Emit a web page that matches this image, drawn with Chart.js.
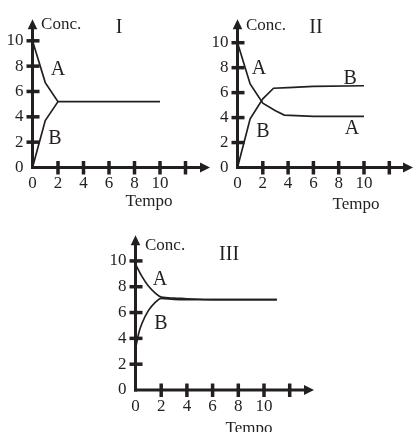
<!DOCTYPE html>
<html><head><meta charset="utf-8">
<script src="https://cdn.jsdelivr.net/npm/chart.js"></script>
<style>
html,body{margin:0;padding:0;background:#fff;}
#wrap{position:relative;width:414px;height:432px;overflow:hidden;background:#fff;}
canvas{position:absolute;}
</style></head><body><div id="wrap">
<canvas id="c1" width="214" height="216" style="left:0px;top:0px"></canvas>
<canvas id="c2" width="207" height="216" style="left:207px;top:0px"></canvas>
<canvas id="c3" width="220" height="216" style="left:100px;top:216px"></canvas>
</div>
<script>
// ---- tick labels / marks ----
const yTickLabels = [0, 2, 4, 6, 8, 10];
const xTickLabels = [0, 2, 4, 6, 8, 10];
const yTickMarks = [2, 4, 6, 8, 10];
const xTickMarks = [2, 4, 6, 8, 10, 12];

// ---- Chart I ----
const timeA1 = [0, 1, 2, 10];
const concA1 = [10, 6.7, 5.2, 5.2];
const timeB1 = [0, 1, 2];
const concB1 = [0, 3.7, 5.2];

// ---- Chart II ----
const timeA2 = [0, 1, 2, 3, 3.7, 6, 10];
const concA2 = [10, 6.7, 5.15, 4.55, 4.2, 4.1, 4.1];
const timeB2 = [0, 1, 2, 2.85, 4, 6, 10];
const concB2 = [0, 3.9, 5.5, 6.35, 6.4, 6.5, 6.55];

// ---- Chart III ----
const timeA3 = [0, 0.5, 1, 1.5, 2, 3, 4, 6, 11];
const concA3 = [9.75, 8.8, 8.05, 7.55, 7.2, 7.12, 7.07, 7.0, 7.0];
const timeB3 = [0, 0.25, 0.5, 1, 1.5, 2, 3, 4, 6, 11];
const concB3 = [3.2, 4.4, 5.15, 6.15, 6.75, 7.1, 7.02, 7.0, 7.0, 7.0];

const INK = '#231f20';
const SERIF = "'Liberation Serif', 'DejaVu Serif', serif";

function pts(xs, ys) { return xs.map((x, i) => ({ x: x, y: ys[i] })); }

const axesPlugin = {
  id: 'axesPlugin',
  beforeDatasetsDraw(chart, args, opts) {
    const ctx = chart.ctx, xs = chart.scales.x, ys = chart.scales.y, ca = chart.chartArea;
    const ox = xs.getPixelForValue(0), oy = ys.getPixelForValue(0);
    ctx.save();
    ctx.strokeStyle = INK; ctx.fillStyle = INK; ctx.lineWidth = 3;
    // y axis
    ctx.beginPath(); ctx.moveTo(ox, oy + 1.5); ctx.lineTo(ox, ca.top + 8); ctx.stroke();
    ctx.beginPath(); ctx.moveTo(ox, ca.top); ctx.lineTo(ox - 4.8, ca.top + 10); ctx.lineTo(ox + 4.8, ca.top + 10); ctx.closePath(); ctx.fill();
    // x axis
    ctx.beginPath(); ctx.moveTo(ox - 1.5, oy); ctx.lineTo(ca.right - 8, oy); ctx.stroke();
    ctx.beginPath(); ctx.moveTo(ca.right, oy); ctx.lineTo(ca.right - 10, oy - 5); ctx.lineTo(ca.right - 10, oy + 5); ctx.closePath(); ctx.fill();
    // tick marks
    ctx.lineWidth = 3.5;
    yTickMarks.forEach(v => { const p = ys.getPixelForValue(v); ctx.beginPath(); ctx.moveTo(ox - 6, p); ctx.lineTo(ox + 7, p); ctx.stroke(); });
    xTickMarks.forEach(v => { const p = xs.getPixelForValue(v); ctx.beginPath(); ctx.moveTo(p, oy - 6.5); ctx.lineTo(p, oy + 7); ctx.stroke(); });
    ctx.restore();
  },
  afterDraw(chart, args, opts) {
    const ctx = chart.ctx, xs = chart.scales.x, ys = chart.scales.y;
    ctx.save();
    ctx.fillStyle = INK; ctx.textBaseline = 'alphabetic';
    (opts.notes || []).forEach(n => {
      ctx.font = n.size + 'px ' + SERIF;
      ctx.textAlign = n.align || 'center';
      ctx.fillText(n.text, xs.getPixelForValue(n.x), ys.getPixelForValue(n.y));
    });
    ctx.restore();
  }
};

function makeChart(id, g, series, notes, smooth) {
  const W = g.W, H = g.H;
  const xMax = (g.tipX - g.axisX) / g.pxX;
  const yMax = (g.axisY - g.tipY) / g.pxY;
  return new Chart(document.getElementById(id), {
    type: 'line',
    data: {
      datasets: series.map(s => ({
        data: pts(s[0], s[1]),
        borderColor: INK, borderWidth: 1.7, pointRadius: 0, fill: false,
        tension: smooth ? 0.4 : 0, cubicInterpolationMode: smooth ? 'monotone' : 'default'
      }))
    },
    options: {
      responsive: false, animation: false, events: [],
      layout: { autoPadding: false, padding: { top: g.tipY, right: W - g.tipX, left: 0, bottom: 0 } },
      plugins: { legend: { display: false }, tooltip: { enabled: false }, axesPlugin: { notes: notes } },
      scales: {
        x: {
          type: 'linear', min: 0, max: xMax,
          grid: { display: false, drawTicks: false }, border: { display: false },
          ticks: { color: INK, font: { family: SERIF, size: 17 }, padding: 6, maxRotation: 0, autoSkip: false },
          afterBuildTicks: s => { s.ticks = xTickLabels.map(v => ({ value: v })); },
          afterFit: s => { s.height = H - g.axisY; }
        },
        y: {
          type: 'linear', min: 0, max: yMax,
          grid: { display: false, drawTicks: false }, border: { display: false },
          ticks: { color: INK, font: { family: SERIF, size: 17 }, padding: 9, autoSkip: false },
          afterBuildTicks: s => { s.ticks = yTickLabels.map(v => ({ value: v })); },
          afterFit: s => { s.width = g.axisX; }
        }
      }
    },
    plugins: [axesPlugin]
  });
}

makeChart('c1', { W: 214, H: 216, axisX: 32.5, axisY: 167.5, tipX: 210, tipY: 13, pxX: 12.75, pxY: 13.2 },
  [[timeA1, concA1], [timeB1, concB1]],
  [
    { text: 'Conc.', x: 0.67, y: 10.9, size: 17, align: 'left' },
    { text: 'I', x: 6.8, y: 10.64, size: 20 },
    { text: 'A', x: 2.0, y: 7.3, size: 20 },
    { text: 'B', x: 1.76, y: 1.86, size: 20 },
    { text: 'Tempo', x: 9.14, y: -3.07, size: 17 }
  ], false);

makeChart('c2', { W: 207, H: 216, axisX: 30.5, axisY: 167.5, tipX: 206, tipY: 13, pxX: 12.65, pxY: 13.0 },
  [[timeA2, concA2], [timeB2, concB2]],
  [
    { text: 'Conc.', x: 0.67, y: 11.05, size: 17, align: 'left' },
    { text: 'II', x: 6.2, y: 10.8, size: 20 },
    { text: 'A', x: 1.7, y: 7.5, size: 20 },
    { text: 'B', x: 2.0, y: 2.42, size: 20 },
    { text: 'B', x: 8.9, y: 6.73, size: 20 },
    { text: 'A', x: 9.05, y: 2.65, size: 20 },
    { text: 'Tempo', x: 9.37, y: -3.35, size: 17 }
  ], false);

makeChart('c3', { W: 220, H: 216, axisX: 35.5, axisY: 174, tipX: 214, tipY: 17.5, pxX: 12.85, pxY: 13.05 },
  [[timeA3, concA3], [timeB3, concB3]],
  [
    { text: 'Conc.', x: 0.74, y: 10.88, size: 17, align: 'left' },
    { text: 'III', x: 7.28, y: 10.04, size: 20 },
    { text: 'A', x: 1.9, y: 8.12, size: 20 },
    { text: 'B', x: 1.98, y: 4.75, size: 20 },
    { text: 'Tempo', x: 8.83, y: -3.3, size: 17 }
  ], true);
</script>
</body></html>
